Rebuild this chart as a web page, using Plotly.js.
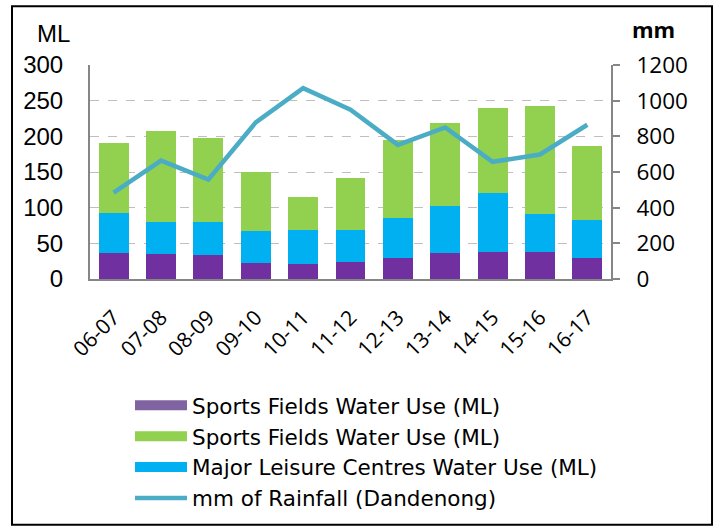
<!DOCTYPE html>
<html>
<head>
<meta charset="utf-8">
<script src="https://cdn.plot.ly/plotly-3.0.1.min.js"></script>
<style>html,body{margin:0;padding:0;background:#fff;}#chart{width:720px;height:529px;}</style>
</head>
<body>
<div id="chart"></div>
<script>
const categories = ['06-07','07-08','08-09','09-10','10-11','11-12','12-13','13-14','14-15','15-16','16-17'];
const sportsFieldsBase = [37, 35, 33, 23, 21, 24, 30, 37, 38, 38, 30];
const leisureCentres = [56, 45, 47, 44, 48, 45, 55, 65, 82, 53, 53];
const sportsFieldsTop = [98, 127, 117, 83, 46, 73, 110, 117, 120, 152, 104];
const rainfall = [484, 664, 558, 878, 1070, 949, 752, 850, 657, 698, 865];
const names = ['Sports Fields Water Use (ML)', 'Sports Fields Water Use (ML)', 'Major Leisure Centres Water Use (ML)', 'mm of Rainfall (Dandenong)'];

const barPurple = '#7030a0', legendPurple = '#8064a2', green = '#92d050', blue = '#00b0f0', lineColor = '#4bacc6';
const legFont = {family: 'DejaVu Sans, sans-serif', size: 21.5, color: '#000'};

const traces = [
  {type:'bar', x:categories, y:sportsFieldsBase, marker:{color:barPurple}, showlegend:false, name:names[0]},
  {type:'bar', x:categories, y:leisureCentres, marker:{color:blue}, showlegend:false, name:names[2]},
  {type:'bar', x:categories, y:sportsFieldsTop, marker:{color:green}, showlegend:false, name:names[1]},
  {type:'scatter', mode:'lines', x:categories, y:rainfall, yaxis:'y2', line:{color:lineColor, width:4.5}, name:names[3], legendrank:4, legendgroup:'d'},
  {type:'scatter', mode:'lines', x:[null], y:[null], line:{color:legendPurple, width:14}, name:names[0], legendrank:1, legendgroup:'a', hoverinfo:'skip'},
  {type:'scatter', mode:'lines', x:[null], y:[null], line:{color:green, width:14}, name:names[1], legendrank:2, legendgroup:'b', hoverinfo:'skip'},
  {type:'scatter', mode:'lines', x:[null], y:[null], line:{color:blue, width:14}, name:names[2], legendrank:3, legendgroup:'c', hoverinfo:'skip'}
];

const layout = {
  width:720, height:529,
  margin:{l:90, r:109, t:65, b:249},
  paper_bgcolor:'#fff', plot_bgcolor:'#fff',
  barmode:'stack', bargap:0.37,
  showlegend:true,
  legend:{x:0.0768, y:-0.487, xanchor:'left', yanchor:'top', orientation:'v', traceorder:'normal', itemwidth:52, font:legFont, tracegroupgap:12.5, bgcolor:'rgba(0,0,0,0)'},
  xaxis:{type:'category', tickangle:-45, tickfont:{family:'Open Sans, sans-serif', size:21, color:'#000'}, showline:true, linecolor:'#868686', linewidth:2, ticks:'', showgrid:false, ticklabelstandoff:16, automargin:false},
  yaxis:{range:[0,300], dtick:50, tickfont:{family:'Liberation Sans, Arial, sans-serif', size:24, color:'#000'}, showline:true, linecolor:'#868686', linewidth:2, showgrid:true, gridcolor:'#bfbfbf', griddash:'dash', gridwidth:1, zeroline:false, ticks:'', ticklabelstandoff:20, automargin:false},
  yaxis2:{range:[0,1200], dtick:200, overlaying:'y', side:'right', tickfont:{family:'Open Sans, sans-serif', size:22.5, color:'#000'}, showline:true, linecolor:'#868686', linewidth:2, showgrid:false, zeroline:false, ticks:'outside', ticklen:7, tickcolor:'#868686', tickwidth:2, ticklabelstandoff:12, automargin:false},
  annotations:[
    {text:'ML', xref:'paper', yref:'paper', x:-0.071, y:1.149, xanchor:'center', yanchor:'middle', showarrow:false, font:{family:'Liberation Sans, Arial, sans-serif', size:24, color:'#000'}},
    {text:'<b>mm</b>', xref:'paper', yref:'paper', x:1.0825, y:1.167, xanchor:'center', yanchor:'middle', showarrow:false, font:{family:'Open Sans, sans-serif', size:22, color:'#000'}}
  ],
  shapes:[
    {type:'rect', xref:'paper', yref:'paper', x0:-0.1497, x1:1.1939, y0:-1.1488, y1:1.2744, line:{color:'#000', width:2}, fillcolor:'rgba(0,0,0,0)', layer:'below'}
  ]
};

Plotly.newPlot('chart', traces, layout, {displayModeBar:false, staticPlot:true});
</script>
</body>
</html>
